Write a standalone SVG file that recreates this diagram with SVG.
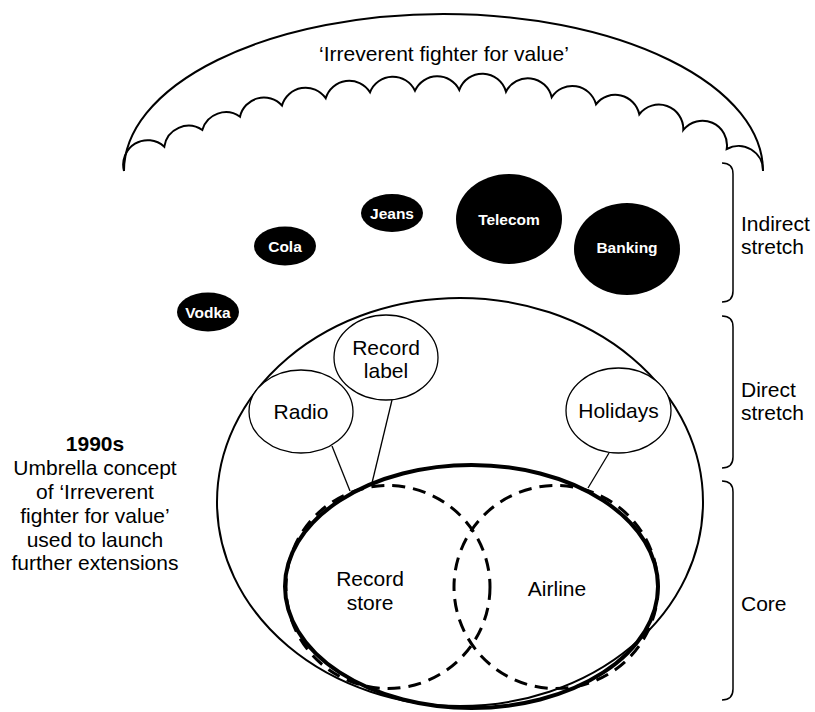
<svg xmlns="http://www.w3.org/2000/svg" width="815" height="712" viewBox="0 0 815 712">
<style>
text{font-family:"Liberation Sans",Arial,Helvetica,sans-serif;font-size:21px;fill:#000;text-anchor:middle}
.b{font-weight:bold}
.w{fill:#fff;font-weight:bold;font-size:15.5px}
.l{text-anchor:start}
.node{fill:#fff;stroke:#000;stroke-width:1.3}
.blk{fill:#000;stroke:none}
.ln{stroke:#000;stroke-width:1.3;fill:none}
.brace{fill:none;stroke:#000;stroke-width:1.5}
.dash{fill:none;stroke:#000;stroke-width:3;stroke-dasharray:13 8}
</style>
<rect width="815" height="712" fill="#fff"/>
<g id="umbrella">
<path d="M124,171 A319.5,157 0 0 1 763,171" fill="none" stroke="#000" stroke-width="2"/>
<path d="M124,171 A24.5,24.5 0 0 1 164.3,146.7 A24.5,24.5 0 0 1 202.3,130 A24.5,24.5 0 0 1 240,116.7 A24.5,24.5 0 0 1 282,105.5 A24.5,24.5 0 0 1 325.7,98.3 A24.5,24.5 0 0 1 370,92.3 A24.5,24.5 0 0 1 415,90.7 A24.5,24.5 0 0 1 459.3,90 A24.5,24.5 0 0 1 506,91.7 A24.5,24.5 0 0 1 551.7,97.3 A24.5,24.5 0 0 1 596,104.3 A24.5,24.5 0 0 1 639.3,114.3 A24.5,24.5 0 0 1 683.3,130 A24.5,24.5 0 0 1 726.7,149 A24.5,24.5 0 0 1 763,171" fill="none" stroke="#000" stroke-width="2"/>
<text x="444" y="60.5">‘Irreverent fighter for value’</text>
</g>
<g id="vodka"><ellipse class="blk" cx="208" cy="312" rx="31" ry="19.5"/><text class="w" x="208" y="317.5">Vodka</text></g>
<g id="cola"><ellipse class="blk" cx="285" cy="246" rx="31" ry="19.5"/><text class="w" x="285" y="251.5">Cola</text></g>
<g id="jeans"><ellipse class="blk" cx="392" cy="213" rx="31" ry="19"/><text class="w" x="392" y="218.5">Jeans</text></g>
<g id="telecom"><ellipse class="blk" cx="509" cy="219" rx="53" ry="45"/><text class="w" x="509" y="224.5">Telecom</text></g>
<g id="banking"><ellipse class="blk" cx="627" cy="249" rx="53" ry="46"/><text class="w" x="627" y="252.5">Banking</text></g>
<g id="direct-stretch"><ellipse cx="460" cy="502" rx="243" ry="204" fill="none" stroke="#000" stroke-width="2"/></g>
<g id="connectors">
<line class="ln" x1="332" y1="446" x2="350" y2="491"/>
<line class="ln" x1="392" y1="400" x2="372" y2="483"/>
<line class="ln" x1="609" y1="453" x2="588" y2="488"/>
</g>
<g id="radio"><ellipse class="node" cx="301" cy="411.5" rx="52" ry="41.5"/><text x="301" y="419">Radio</text></g>
<g id="record-label"><ellipse class="node" cx="386" cy="357.5" rx="52" ry="42.5"/><text x="386" y="354.5">Record</text><text x="386" y="378">label</text></g>
<g id="holidays"><ellipse class="node" cx="618.5" cy="410.5" rx="52.5" ry="42.5"/><text x="618.5" y="418">Holidays</text></g>
<g id="record-store"><ellipse class="dash" cx="388" cy="587" rx="102" ry="101.5"/><text x="370" y="585.5">Record</text><text x="370" y="609.5">store</text></g>
<g id="airline"><ellipse class="dash" cx="556" cy="587" rx="102" ry="101.5"/><text x="557" y="595.5">Airline</text></g>
<g id="core"><ellipse cx="471.5" cy="586.5" rx="186.5" ry="121.5" fill="none" stroke="#000" stroke-width="4"/></g>
<g id="label-1990s">
<text class="b" x="95" y="450.5">1990s</text>
<text x="95" y="474.5">Umbrella concept</text>
<text x="95" y="498.5">of ‘Irreverent</text>
<text x="95" y="522.5">fighter for value’</text>
<text x="95" y="546.5">used to launch</text>
<text x="95" y="569.5">further extensions</text>
</g>
<g id="braces">
<path class="brace" d="M722,163 Q733,163 733,174 V291 Q733,302 722,302"/>
<path class="brace" d="M722,316 Q733,316 733,327 V457 Q733,468 722,468"/>
<path class="brace" d="M722,481 Q733,481 733,492 V689 Q733,700 722,700"/>
<text class="l" x="741" y="231">Indirect</text>
<text class="l" x="741" y="254">stretch</text>
<text class="l" x="741" y="397">Direct</text>
<text class="l" x="741" y="420">stretch</text>
<text class="l" x="741" y="611">Core</text>
</g>
</svg>
